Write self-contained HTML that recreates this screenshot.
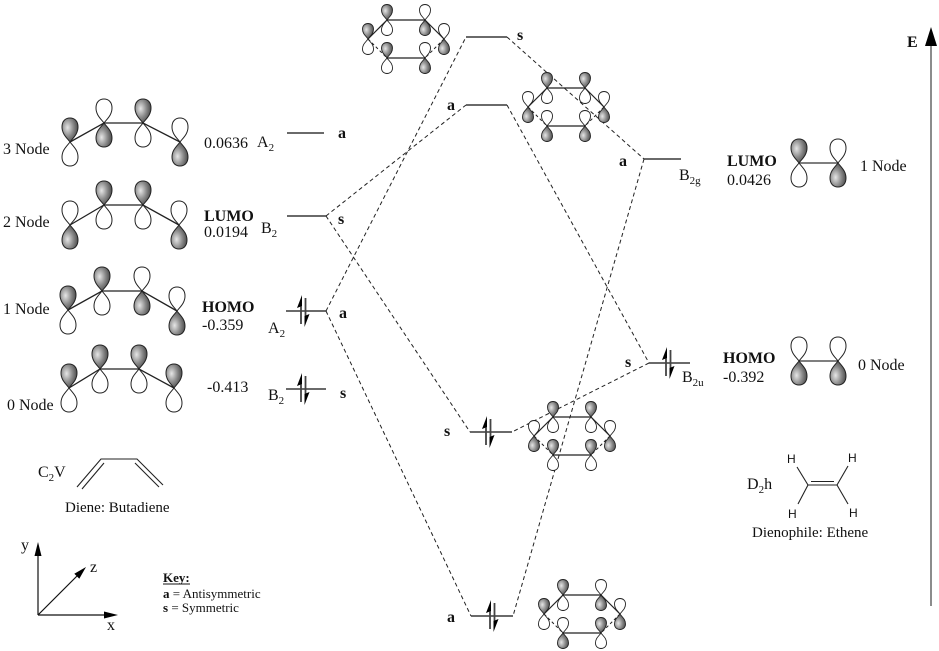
<!DOCTYPE html>
<html><head><meta charset="utf-8"><style>
html,body{margin:0;padding:0;background:#fff;}
svg{display:block;}
text{font-family:"Liberation Serif",serif;font-size:16px;fill:#111;}
.b{font-weight:bold;}
.h{font-family:"Liberation Sans",sans-serif;font-size:12px;}
</style></head><body>
<svg width="939" height="651" viewBox="0 0 939 651" xmlns="http://www.w3.org/2000/svg">
<defs>
<radialGradient id="g" cx="0.35" cy="0.4" r="0.8">
<stop offset="0" stop-color="#e6e6e6"/><stop offset="0.45" stop-color="#8c8c8c"/><stop offset="1" stop-color="#2c2c2c"/>
</radialGradient>
<path id="B" d="M0,0 C-3,-4 -8,-8 -8,-15 C-8,-21 -4.5,-24 0,-24 C4.5,-24 8,-21 8,-15 C8,-8 3,-4 0,0Z"/>
<path id="S" d="M0,0 C-2,-3 -5.5,-5 -5.5,-10 C-5.5,-13.5 -3,-15.5 0,-15.5 C3,-15.5 5.5,-13.5 5.5,-10 C5.5,-5 2,-3 0,0Z"/>
<g id="bS" stroke="#222" stroke-width="1"><use href="#B" fill="url(#g)"/><use href="#B" fill="#fff" transform="scale(1,-1)"/></g>
<g id="bW" stroke="#222" stroke-width="1"><use href="#B" fill="#fff"/><use href="#B" fill="url(#g)" transform="scale(1,-1)"/></g>
<g id="sS" stroke="#222" stroke-width="0.9"><use href="#S" fill="url(#g)"/><use href="#S" fill="#fff" transform="scale(1,-1)"/></g>
<g id="sW" stroke="#222" stroke-width="0.9"><use href="#S" fill="#fff"/><use href="#S" fill="url(#g)" transform="scale(1,-1)"/></g>
<g id="sk" stroke="#222" stroke-width="1.2" fill="none">
<line x1="-19" y1="19" x2="0" y2="0"/><line x1="0" y1="0" x2="38" y2="0"/><line x1="38" y1="0" x2="57" y2="19"/><line x1="0" y1="38" x2="38" y2="38"/>
<line x1="-19" y1="19" x2="0" y2="38" stroke-dasharray="3 2.5" stroke-width="1"/><line x1="57" y1="19" x2="38" y2="38" stroke-dasharray="3 2.5" stroke-width="1"/>
</g>
<g id="ar">
<line x1="0" y1="13" x2="0" y2="-6" stroke="#444" stroke-width="1.8"/><path d="M1,-16 L-4,-3 L1,-5Z" fill="#000"/>
<line x1="4.5" y1="-13" x2="4.5" y2="6" stroke="#444" stroke-width="1.8"/><path d="M3.5,16 L8.5,3 L3.5,5Z" fill="#000"/>
</g>
</defs>

<!-- Butadiene MOs -->
<g stroke="#222" stroke-width="1.3" fill="none">
<polyline points="70,142 104,123 143,123 180,142"/>
<polyline points="70,225 104,205 143,205 179,225"/>
<polyline points="68,310 102,291 142,291 177,311"/>
<polyline points="69,388 100,369 139,369 174,388"/>
</g>
<use href="#bS" x="70" y="142"/><use href="#bW" x="104" y="123"/><use href="#bS" x="143" y="123"/><use href="#bW" x="180" y="142"/>
<use href="#bW" x="70" y="225"/><use href="#bS" x="104" y="205"/><use href="#bS" x="143" y="205"/><use href="#bW" x="179" y="225"/>
<use href="#bS" x="68" y="310"/><use href="#bS" x="102" y="291"/><use href="#bW" x="142" y="291"/><use href="#bW" x="177" y="311"/>
<use href="#bS" x="69" y="388"/><use href="#bS" x="100" y="369"/><use href="#bS" x="139" y="369"/><use href="#bS" x="174" y="388"/>

<text x="3" y="154">3 Node</text>
<text x="3" y="227">2 Node</text>
<text x="3" y="314">1 Node</text>
<text x="7" y="410">0 Node</text>
<text x="204" y="148">0.0636</text>
<text x="204" y="221" class="b">LUMO</text>
<text x="204" y="237">0.0194</text>
<text x="202" y="312" class="b">HOMO</text>
<text x="202" y="330">-0.359</text>
<text x="207" y="392">-0.413</text>
<text x="257" y="147">A<tspan font-size="11" dy="4">2</tspan></text>
<text x="261" y="233">B<tspan font-size="11" dy="4">2</tspan></text>
<text x="268" y="333">A<tspan font-size="11" dy="4">2</tspan></text>
<text x="268" y="400">B<tspan font-size="11" dy="4">2</tspan></text>
<text x="338" y="138" class="b">a</text>
<text x="338" y="224" class="b">s</text>
<text x="339" y="318" class="b">a</text>
<text x="340" y="398" class="b">s</text>

<!-- levels -->
<g stroke="#111" stroke-width="1.3">
<line x1="287" y1="133" x2="324" y2="133"/>
<line x1="287" y1="216" x2="326" y2="216"/>
<line x1="286" y1="311" x2="326" y2="311"/>
<line x1="286" y1="389" x2="326" y2="389"/>
<line x1="466" y1="37" x2="507" y2="37"/>
<line x1="466" y1="105" x2="507" y2="105"/>
<line x1="470" y1="432" x2="512" y2="432"/>
<line x1="471" y1="616" x2="513" y2="616"/>
<line x1="644" y1="159" x2="681" y2="159"/>
<line x1="649" y1="363" x2="690" y2="363"/>
</g>
<use href="#ar" x="301" y="311"/>
<use href="#ar" x="301" y="389"/>
<use href="#ar" x="486" y="432"/>
<use href="#ar" x="490" y="616"/>
<use href="#ar" x="666" y="363"/>

<!-- dashed correlation lines -->
<g stroke="#222" stroke-width="1" stroke-dasharray="4 3" fill="none">
<line x1="326" y1="216" x2="466" y2="105"/>
<line x1="326" y1="216" x2="470" y2="432"/>
<line x1="326" y1="311" x2="466" y2="37"/>
<line x1="326" y1="311" x2="471" y2="616"/>
<line x1="507" y1="37" x2="644" y2="159"/>
<line x1="507" y1="105" x2="649" y2="363"/>
<line x1="644" y1="159" x2="513" y2="616"/>
<line x1="649" y1="363" x2="512" y2="432"/>
</g>

<!-- center labels -->
<text x="517" y="40" class="b">s</text>
<text x="447" y="110" class="b">a</text>
<text x="619" y="166" class="b">a</text>
<text x="625" y="367" class="b">s</text>
<text x="444" y="436" class="b">s</text>
<text x="447" y="622" class="b">a</text>

<!-- center cyclohexene-like orbitals -->
<g transform="translate(387,20)">
<use href="#sk"/>
<use href="#sS" x="0" y="0"/><use href="#sW" x="38" y="0"/><use href="#sS" x="-19" y="19"/><use href="#sW" x="57" y="19"/><use href="#sS" x="0" y="38"/><use href="#sW" x="38" y="38"/>
</g>
<g transform="translate(547,88)">
<use href="#sk"/>
<use href="#sS" x="0" y="0"/><use href="#sS" x="38" y="0"/><use href="#sW" x="-19" y="19"/><use href="#sW" x="57" y="19"/><use href="#sW" x="0" y="38"/><use href="#sW" x="38" y="38"/>
</g>
<g transform="translate(553,417)">
<use href="#sk"/>
<use href="#sS" x="0" y="0"/><use href="#sS" x="38" y="0"/><use href="#sW" x="-19" y="19"/><use href="#sW" x="57" y="19"/><use href="#sS" x="0" y="38"/><use href="#sS" x="38" y="38"/>
</g>
<g transform="translate(563,595)">
<use href="#sk"/>
<use href="#sS" x="0" y="0"/><use href="#sW" x="38" y="0"/><use href="#sS" x="-19" y="19"/><use href="#sW" x="57" y="19"/><use href="#sW" x="0" y="38"/><use href="#sS" x="38" y="38"/>
</g>

<!-- right side ethene -->
<text x="679" y="180">B<tspan font-size="11" dy="4">2g</tspan></text>
<text x="682" y="382">B<tspan font-size="11" dy="4">2u</tspan></text>
<text x="727" y="166" class="b">LUMO</text>
<text x="727" y="185">0.0426</text>
<text x="860" y="171">1 Node</text>
<text x="723" y="363" class="b">HOMO</text>
<text x="723" y="382">-0.392</text>
<text x="858" y="370">0 Node</text>
<line x1="799" y1="163" x2="838" y2="163" stroke="#555" stroke-width="1.6"/>
<line x1="799" y1="361" x2="838" y2="361" stroke="#333" stroke-width="1.3"/>
<use href="#bS" x="799" y="163"/><use href="#bW" x="838" y="163"/>
<use href="#bW" x="799" y="361"/><use href="#bW" x="838" y="361"/>

<!-- energy axis -->
<line x1="931" y1="44" x2="931" y2="606" stroke="#666" stroke-width="1.5"/>
<polygon points="931,27 925,46 937,46" fill="#000"/>
<text x="907" y="47" class="b">E</text>

<!-- butadiene skeleton -->
<text x="38" y="477">C<tspan font-size="11" dy="4">2</tspan><tspan dy="-4">V</tspan></text>
<g stroke="#222" stroke-width="1.1" fill="none">
<polyline points="77,487 101,459 137,459 163,485"/>
<line x1="82" y1="489" x2="104" y2="463"/>
<line x1="135" y1="463" x2="159" y2="487"/>
</g>
<text x="65" y="512" style="font-size:15px">Diene: Butadiene</text>

<!-- axes -->
<g stroke="#111" stroke-width="1.2" fill="none">
<line x1="38" y1="615" x2="38" y2="554"/>
<line x1="38" y1="615" x2="106" y2="615"/>
<line x1="38" y1="615" x2="79" y2="574"/>
</g>
<polygon points="38,542 34.5,556 41.5,556" fill="#000"/>
<polygon points="118,615 104,611.5 104,618.5" fill="#000"/>
<polygon points="86,567 79.3,578.7 74.3,573.7" fill="#000"/>
<text x="21" y="550">y</text>
<text x="90" y="572">z</text>
<text x="107" y="630">x</text>

<!-- key -->
<text x="163" y="582" class="b" style="font-size:13px">Key:</text>
<line x1="163" y1="584" x2="190" y2="584" stroke="#111" stroke-width="1"/>
<text x="163" y="598" style="font-size:13px"><tspan font-weight="bold">a</tspan> = Antisymmetric</text>
<text x="163" y="612" style="font-size:13px"><tspan font-weight="bold">s</tspan> = Symmetric</text>

<!-- ethene skeleton -->
<text x="747" y="489">D<tspan font-size="11" dy="4">2</tspan><tspan dy="-4">h</tspan></text>
<g stroke="#222" stroke-width="1.1" fill="none">
<line x1="808" y1="485" x2="837" y2="485"/>
<line x1="811" y1="481.5" x2="834" y2="481.5"/>
<line x1="808" y1="485" x2="797" y2="467"/>
<line x1="808" y1="485" x2="798" y2="504"/>
<line x1="837" y1="485" x2="848" y2="466"/>
<line x1="837" y1="485" x2="848" y2="504"/>
</g>
<text class="h" x="787" y="463">H</text>
<text class="h" x="848" y="462">H</text>
<text class="h" x="788" y="518">H</text>
<text class="h" x="849" y="517">H</text>
<text x="752" y="537" style="font-size:15px">Dienophile: Ethene</text>
</svg>
</body></html>
